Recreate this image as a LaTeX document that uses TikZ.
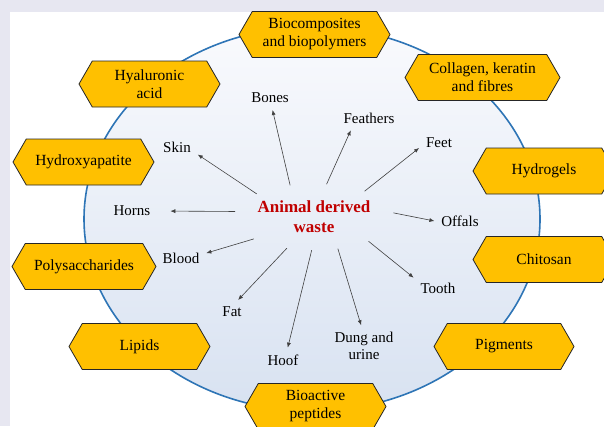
\documentclass[tikz,border=0pt]{standalone}
\usepackage{fontspec}
\setmainfont{Liberation Serif}
\usetikzlibrary{shapes.symbols,shapes.geometric,arrows.meta}
\definecolor{wasteFrame}{RGB}{231,231,241}
\definecolor{wasteRing}{RGB}{46,117,182}
\definecolor{wasteTop}{RGB}{249,250,253}
\definecolor{wasteBottom}{RGB}{216,226,241}
\definecolor{wasteGold}{RGB}{255,192,0}
\definecolor{wasteRed}{RGB}{192,0,0}

\begin{document}
\begin{tikzpicture}[x=1pt, y=-1pt,
  usebox/.style={signal, signal to=west and east, signal pointer angle=120,
    draw=black!85, line width=0.8pt, fill=wasteGold, minimum width=141pt,
    minimum height=46pt, inner sep=0pt, align=center,
    font=\fontsize{15.5}{18}\selectfont},
  source/.style={font=\fontsize{15}{17}\selectfont, inner sep=2pt, outer sep=5pt, align=center},
  flow/.style={draw=black!75, line width=0.6pt, -{Latex[length=5pt,width=4pt]}}]
% Page frame
\useasboundingbox (0,0) rectangle (604,426);
\clip (0,0) rectangle (604,426);
\fill[wasteFrame] (0,0) rectangle (604,426);
\fill[white] (10,12) rectangle (604,426);
% Ring
\path[draw=wasteRing, line width=1.6pt, top color=wasteTop, bottom color=wasteBottom]
  (312,219) ellipse [x radius=228, y radius=192];
% Uses round the ring
\node[usebox, minimum width=151pt] (biocomp) at (314.5,34.5) {Biocomposites\\and biopolymers};
\node[usebox] (hyaluronic) at (149.5,84) {Hyaluronic\\acid};
\node[usebox, minimum width=155pt] (collagen) at (482.5,77.5) {Collagen, keratin\\and fibres};
\node[usebox] (hydroxy) at (83.5,162) {Hydroxyapatite};
\node[usebox, minimum width=142pt] (hydrogels) at (544,171) {Hydrogels};
\node[usebox, minimum width=144pt] (polysacch) at (84,266.5) {Polysaccharides};
\node[usebox, minimum width=142pt] (chitosan) at (544,259.5) {Chitosan};
\node[usebox] (lipids) at (139.5,346.5) {Lipids};
\node[usebox, minimum width=140pt] (pigments) at (504,346.5) {Pigments};
\node[usebox] (peptides) at (315.5,406.5) {Bioactive\\peptides};
% Centre
\node[ellipse, minimum width=140pt, minimum height=66pt, inner sep=0pt, align=center,
  text=wasteRed, font=\bfseries\fontsize{17}{20}\selectfont] (waste) at (314,217) {Animal derived\\waste};
% Sources
\node[source] (bones) at (270,98) {Bones};
\node[source] (feathers) at (369,118) {Feathers};
\node[source] (feet) at (439,143) {Feet};
\node[source] (skin) at (177,147) {Skin};
\node[source] (horns) at (132,211) {Horns};
\node[source] (offals) at (460,221) {Offals};
\node[source] (blood) at (181,258) {Blood};
\node[source] (tooth) at (438,288) {Tooth};
\node[source] (fat) at (232,312) {Fat};
\node[source] (hoof) at (283,360) {Hoof};
\node[source] (dung) at (364,346) {Dung and\\urine};
% Arrows
\draw[flow] (waste.127) -- (bones.282);
\draw[flow] (waste.69) -- (feathers.214);
\draw[flow] (waste.27) -- (feet.194);
\draw[flow] (waste.158) -- (skin.340);
\draw[flow, shorten >=13pt] (waste.176) -- (horns.0);
\draw[flow] (waste.3) -- (offals.180);
\draw[flow] (waste.200) -- (blood.11);
\draw[flow] (waste.336) -- (tooth.157);
\draw[flow] (waste.229) -- (fat.63);
\draw[flow] (waste.266) -- (hoof.69);
\draw[flow] (waste.307) -- (dung.98);
\end{tikzpicture}
\end{document}
